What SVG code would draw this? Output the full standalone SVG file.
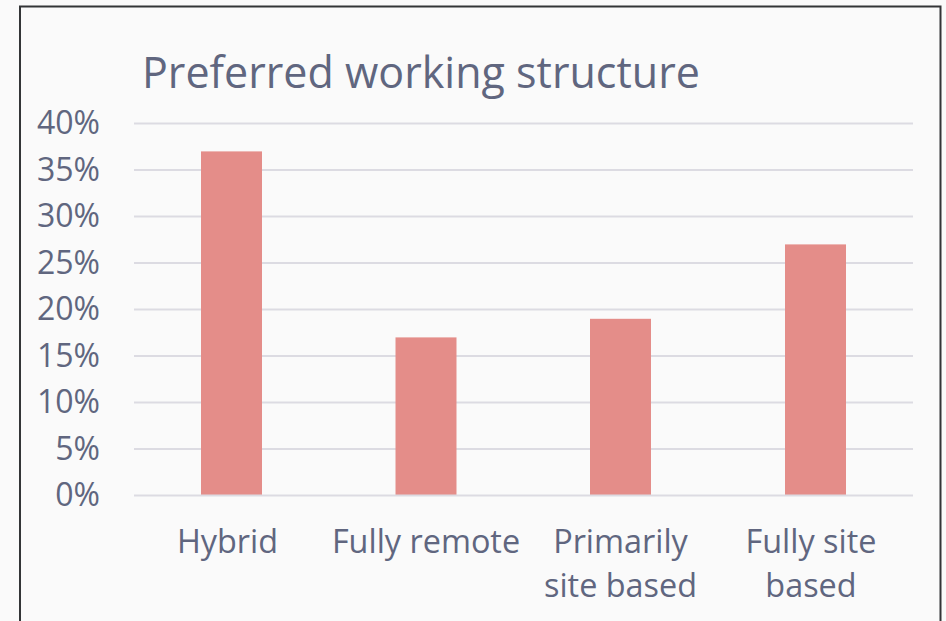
<svg xmlns="http://www.w3.org/2000/svg" width="946" height="621" viewBox="0 0 946 621">
  <style>
    .txt { font-family: "Open Sans", "Noto Sans", "Liberation Sans", sans-serif; fill: #60667f; }
    .axis { font-size: 32px; text-anchor: end; }
    .cat { font-size: 32.4px; text-anchor: middle; }
    .title { font-size: 43px; }
    .grid { stroke: #dcdbe2; stroke-width: 2; }
    .bar { fill: #e48d89; }
  </style>
  <rect x="0" y="0" width="946" height="621" fill="#fafafa"/>
  <!-- chart frame (open at the bottom edge) -->
  <path d="M20,625 V6.5 H940.5 V625" fill="none" stroke="#333537" stroke-width="2"/>

  <text class="txt title" x="142" y="88">Preferred working structure</text>

  <!-- gridlines -->
  <g id="grid">
    <line class="grid" x1="134" y1="123.5" x2="913" y2="123.5"/>
    <line class="grid" x1="134" y1="170" x2="913" y2="170"/>
    <line class="grid" x1="134" y1="216.5" x2="913" y2="216.5"/>
    <line class="grid" x1="134" y1="263" x2="913" y2="263"/>
    <line class="grid" x1="134" y1="309.5" x2="913" y2="309.5"/>
    <line class="grid" x1="134" y1="356" x2="913" y2="356"/>
    <line class="grid" x1="134" y1="402.5" x2="913" y2="402.5"/>
    <line class="grid" x1="134" y1="449" x2="913" y2="449"/>
  </g>

  <!-- y axis labels -->
  <g id="yaxis" class="txt axis">
    <text x="100" y="134">40%</text>
    <text x="100" y="180.5">35%</text>
    <text x="100" y="227">30%</text>
    <text x="100" y="273.5">25%</text>
    <text x="100" y="320">20%</text>
    <text x="100" y="366.5">15%</text>
    <text x="100" y="413">10%</text>
    <text x="100" y="459.5">5%</text>
    <text x="100" y="506">0%</text>
  </g>

  <!-- bars -->
  <g id="bar-hybrid"><rect class="bar" x="201" y="151.4" width="61" height="344.1"/></g>
  <g id="bar-remote"><rect class="bar" x="395.5" y="337.4" width="61" height="158.1"/></g>
  <g id="bar-primarily"><rect class="bar" x="590" y="318.8" width="61" height="176.7"/></g>
  <g id="bar-site"><rect class="bar" x="785" y="244.4" width="61" height="251.1"/></g>

  <!-- baseline -->
  <line class="grid" x1="134" y1="495.5" x2="913" y2="495.5"/>

  <!-- category labels -->
  <g id="xaxis" class="txt cat">
    <text x="227.5" y="553">Hybrid</text>
    <text x="426" y="553">Fully remote</text>
    <text x="620.5" y="553">Primarily</text>
    <text x="620.5" y="597">site based</text>
    <text x="811" y="553">Fully site</text>
    <text x="811" y="597">based</text>
  </g>
</svg>
